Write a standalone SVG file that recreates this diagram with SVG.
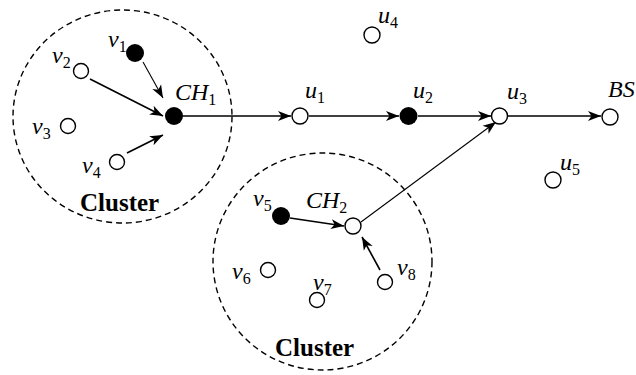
<svg xmlns="http://www.w3.org/2000/svg" width="636" height="375" viewBox="0 0 636 375">
<style>
.open{fill:#fff;stroke:#000;stroke-width:1.4}
.fill{fill:#000}
.clu{fill:none;stroke:#000;stroke-width:1.4;stroke-dasharray:6,4}
.e{fill:none;stroke:#000;stroke-width:1.6}
.t{fill:none;stroke:#000;stroke-width:1.1}
</style>
<defs>
<marker id="ah" markerUnits="userSpaceOnUse" markerWidth="14" markerHeight="12" refX="13" refY="5" orient="auto" viewBox="0 0 14 10">
<path d="M0,0 L13,5 L0,10 L3.5,5 z" fill="#000"/>
</marker>
</defs>
<g id="clusters">
<ellipse class="clu" cx="122.5" cy="116.5" rx="109.5" ry="106.5"/>
<ellipse class="clu" cx="322.5" cy="261.5" rx="109.5" ry="108.5"/>
<text font-family="Liberation Serif" font-size="25" font-weight="bold" x="80" y="211">Cluster</text>
<text font-family="Liberation Serif" font-size="25" font-weight="bold" x="275" y="356">Cluster</text>
</g>
<g id="connectors">
<line class="t" x1="143" y1="62" x2="163" y2="98" marker-end="url(#ah)"/>
<line class="e" x1="90" y1="79" x2="163" y2="116" marker-end="url(#ah)"/>
<line class="e" x1="127" y1="153" x2="163" y2="135" marker-end="url(#ah)"/>
<line class="e" x1="183" y1="116" x2="291" y2="116" marker-end="url(#ah)"/>
<line class="e" x1="309" y1="116" x2="399" y2="116" marker-end="url(#ah)"/>
<line class="e" x1="418" y1="116" x2="491" y2="116" marker-end="url(#ah)"/>
<line class="e" x1="508" y1="116" x2="601" y2="116" marker-end="url(#ah)"/>
<line class="t" x1="361" y1="222" x2="496" y2="122" marker-end="url(#ah)"/>
<line class="e" x1="290" y1="218" x2="344" y2="226" marker-end="url(#ah)"/>
<line class="e" x1="380" y1="270" x2="362" y2="237" marker-end="url(#ah)"/>
</g>
<g id="v1"><circle class="fill" cx="135" cy="53" r="9"/><text font-family="Liberation Serif" font-size="24" font-style="italic" x="108" y="47">v<tspan font-style="normal" font-size="16" dy="5">1</tspan></text></g>
<g id="v2"><circle class="open" cx="81" cy="71" r="7.5"/><text font-family="Liberation Serif" font-size="24" font-style="italic" x="52" y="63">v<tspan font-style="normal" font-size="16" dy="5">2</tspan></text></g>
<g id="v3"><circle class="open" cx="68" cy="126" r="7.5"/><text font-family="Liberation Serif" font-size="24" font-style="italic" x="32" y="134">v<tspan font-style="normal" font-size="16" dy="5">3</tspan></text></g>
<g id="v4"><circle class="open" cx="117" cy="162" r="7.5"/><text font-family="Liberation Serif" font-size="24" font-style="italic" x="82" y="173">v<tspan font-style="normal" font-size="16" dy="5">4</tspan></text></g>
<g id="CH1"><circle class="fill" cx="174" cy="116" r="9"/><text font-family="Liberation Serif" font-size="24" font-style="italic" x="175" y="100">CH<tspan font-style="normal" font-size="16" dy="5">1</tspan></text></g>
<g id="u1"><circle class="open" cx="300" cy="116" r="8"/><text font-family="Liberation Serif" font-size="24" font-style="italic" x="305" y="98">u<tspan font-style="normal" font-size="16" dy="5">1</tspan></text></g>
<g id="u2"><circle class="fill" cx="408.5" cy="116" r="9"/><text font-family="Liberation Serif" font-size="24" font-style="italic" x="413" y="98">u<tspan font-style="normal" font-size="16" dy="5">2</tspan></text></g>
<g id="u3"><circle class="open" cx="499.5" cy="116" r="8"/><text font-family="Liberation Serif" font-size="24" font-style="italic" x="507" y="99">u<tspan font-style="normal" font-size="16" dy="5">3</tspan></text></g>
<g id="BS"><circle class="open" cx="610" cy="117" r="8"/><text font-family="Liberation Serif" font-size="24" font-style="italic" x="608" y="97">BS</text></g>
<g id="u4"><circle class="open" cx="372" cy="35" r="8"/><text font-family="Liberation Serif" font-size="24" font-style="italic" x="378" y="23">u<tspan font-style="normal" font-size="16" dy="5">4</tspan></text></g>
<g id="u5"><circle class="open" cx="553" cy="180" r="8"/><text font-family="Liberation Serif" font-size="24" font-style="italic" x="560" y="170">u<tspan font-style="normal" font-size="16" dy="5">5</tspan></text></g>
<g id="v5"><circle class="fill" cx="281" cy="216" r="9"/><text font-family="Liberation Serif" font-size="24" font-style="italic" x="253" y="206">v<tspan font-style="normal" font-size="16" dy="5">5</tspan></text></g>
<g id="CH2"><circle class="open" cx="353" cy="226" r="8"/><text font-family="Liberation Serif" font-size="24" font-style="italic" x="306" y="208">CH<tspan font-style="normal" font-size="16" dy="5">2</tspan></text></g>
<g id="v6"><circle class="open" cx="268" cy="270" r="7.5"/><text font-family="Liberation Serif" font-size="24" font-style="italic" x="232" y="279">v<tspan font-style="normal" font-size="16" dy="5">6</tspan></text></g>
<g id="v7"><circle class="open" cx="317" cy="300" r="7.5"/><text font-family="Liberation Serif" font-size="24" font-style="italic" x="313" y="290">v<tspan font-style="normal" font-size="16" dy="5">7</tspan></text></g>
<g id="v8"><circle class="open" cx="385" cy="282" r="7.5"/><text font-family="Liberation Serif" font-size="24" font-style="italic" x="397" y="275">v<tspan font-style="normal" font-size="16" dy="5">8</tspan></text></g>
</svg>
